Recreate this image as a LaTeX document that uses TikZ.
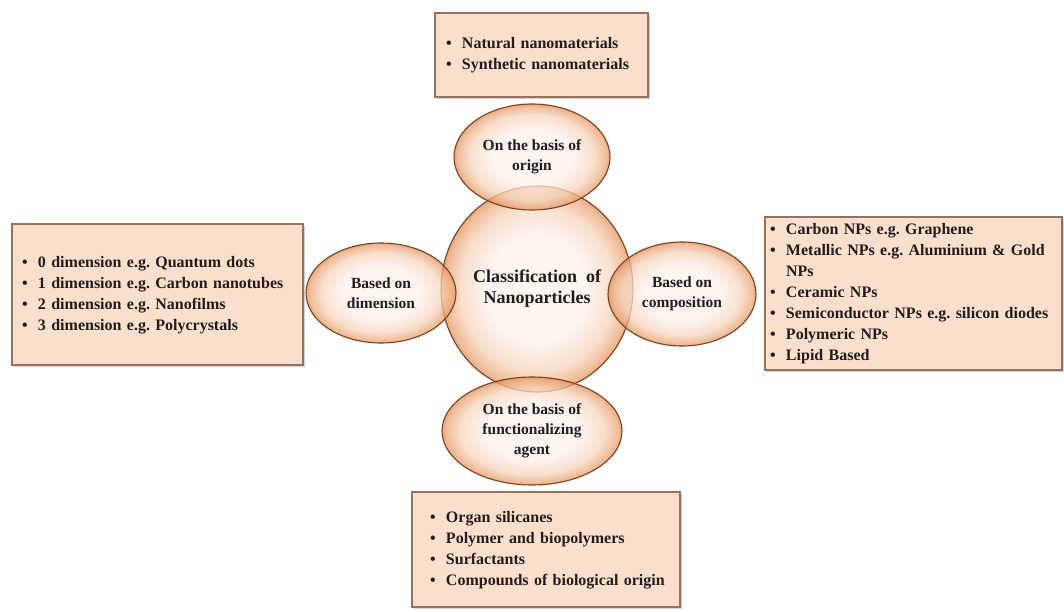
\documentclass[tikz,border=0pt]{standalone}
\usepackage{fontspec}
\setmainfont{Liberation Serif}
\usepackage{tikz}
\usetikzlibrary{shapes.geometric,shadows}
\definecolor{peach}{RGB}{250,224,204}
\definecolor{boxedge}{RGB}{150,112,96}
\definecolor{bubin}{RGB}{252,240,235}
\definecolor{bubmid}{RGB}{246,212,188}
\definecolor{bubrim}{RGB}{234,164,116}
\definecolor{bubout}{RGB}{218,138,88}
\definecolor{bubedge}{RGB}{125,66,32}
\definecolor{inktext}{RGB}{35,28,28}
\pgfdeclareradialshading{bubshade}{\pgfpoint{0bp}{0bp}}{color(0bp)=(bubin); color(13bp)=(bubin); color(20bp)=(bubmid); color(24bp)=(bubrim); color(25bp)=(bubout); color(50bp)=(bubout)}
\tikzstyle{listbox}=[rectangle, draw=boxedge, line width=1.3pt, fill=peach, align=left, inner ysep=0pt, text=inktext, font=\bfseries\fontsize{16}{21}\selectfont, drop shadow={shadow xshift=2pt, shadow yshift=-2pt, opacity=0.35, fill=gray}]
\tikzstyle{bubble}=[ellipse, draw=bubedge, line width=1.1pt, shading=bubshade, fill opacity=0.75, text opacity=1, inner sep=0pt, align=center, text=inktext, font=\bfseries\fontsize{15.5}{20}\selectfont]
\newcommand{\itm}[1]{\makebox[16pt][l]{\textbullet}#1}
\newcommand{\lst}[1]{\begin{tabular}{@{}l@{}}#1\end{tabular}}
\frenchspacing

\begin{document}
\begin{tikzpicture}[x=1pt, y=-1pt]
	\useasboundingbox (0,0) rectangle (1064,612);
%
	\node[listbox, minimum height=84pt, inner xsep=11pt, text width=191pt] (orgbox) at (541.5,55)
		{\lst{\itm{Natural nanomaterials}\\ \itm{Synthetic nanomaterials}}};
	\node[listbox, minimum height=141pt, inner xsep=10pt, text width=271pt] (dimbox) at (157.5,294.5)
		{\lst{\itm{0 dimension e.g. Quantum dots}\\ \itm{1 dimension e.g. Carbon nanotubes}\\ \itm{2 dimension e.g. Nanofilms}\\ \itm{3 dimension e.g. Polycrystals}}};
	\node[listbox, minimum height=153pt, inner xsep=5pt, text width=287pt] (compbox) at (913.5,293.5)
		{\lst{\itm{Carbon NPs e.g. Graphene}\\ \itm{Metallic NPs e.g. Aluminium \& Gold}\\ \hspace*{16pt}NPs\\ \itm{Ceramic NPs}\\ \itm{Semiconductor NPs e.g. silicon diodes}\\ \itm{Polymeric NPs}\\ \itm{Lipid Based}}};
	\node[listbox, minimum height=115pt, inner xsep=18pt, text width=232pt] (agentbox) at (546,549.5)
		{\lst{\itm{Organ silicanes}\\ \itm{Polymer and biopolymers}\\ \itm{Surfactants}\\ \itm{Compounds of biological origin}}};
%
	\node[bubble, minimum width=192pt, minimum height=206pt, font=\bfseries\fontsize{18}{21}\selectfont] (core) at (537,289) {Classification\ \ of\\Nanoparticles};
	\node[bubble, minimum width=156pt, minimum height=106pt] (origin) at (532,157) {On the basis of\\origin};
	\node[bubble, minimum width=150pt, minimum height=100pt] (dimension) at (381,293) {Based on\\dimension};
	\node[bubble, minimum width=148pt, minimum height=104pt] (composition) at (682,294) {Based on\\composition};
	\node[bubble, minimum width=180pt, minimum height=108pt] (agent) at (532,431) {On the basis of\\functionalizing\\agent};
\end{tikzpicture}
\end{document}
